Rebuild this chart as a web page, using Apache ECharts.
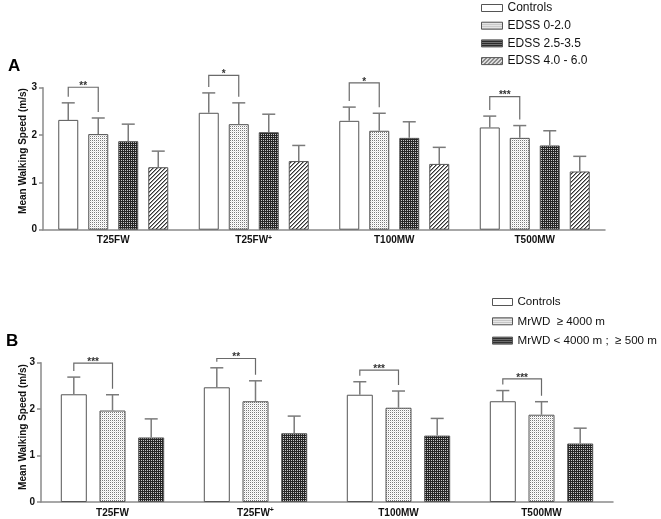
<!DOCTYPE html>
<html><head><meta charset="utf-8">
<script src="https://cdn.jsdelivr.net/npm/echarts@6/dist/echarts.min.js"></script>
<style>html,body{margin:0;padding:0;background:#fff}#c{width:661px;height:519px}</style>
</head><body><div id="c"></div>
<script>
// ---------- data ----------
const categories = ['T25FW', 'T25FW+', 'T100MW', 'T500MW'];
const yTicks = [0, 1, 2, 3];

// Panel A (EDSS groups)
const aNames = ['Controls', 'EDSS 0-2.0', 'EDSS 2.5-3.5', 'EDSS 4.0 - 6.0'];
const aControls   = [2.32, 2.47, 2.30, 2.16];
const aControlsSD = [0.36, 0.42, 0.29, 0.24];
const aEdss0      = [2.02, 2.23, 2.09, 1.94];
const aEdss0SD    = [0.34, 0.45, 0.37, 0.26];
const aEdss25     = [1.87, 2.06, 1.94, 1.78];
const aEdss25SD   = [0.36, 0.38, 0.34, 0.31];
const aEdss4      = [1.32, 1.45, 1.39, 1.23];
const aEdss4SD    = [0.34, 0.33, 0.35, 0.32];
const aSigLevel   = [3.01, 3.26, 3.10, 2.81];
const aSigLabel   = ['**', '*', '*', '***'];

// Panel B (MrWD groups)
const bNames = ['Controls', 'MrWD  \u2265 4000 m', 'MrWD < 4000 m ;  \u2265 500 m'];
const bControls   = [2.32, 2.47, 2.31, 2.17];
const bControlsSD = [0.37, 0.42, 0.28, 0.23];
const bMr4000     = [1.97, 2.17, 2.03, 1.88];
const bMr4000SD   = [0.34, 0.44, 0.36, 0.28];
const bMr500      = [1.39, 1.48, 1.43, 1.26];
const bMr500SD    = [0.40, 0.37, 0.37, 0.33];
const bSigLevel   = [2.99, 3.09, 2.84, 2.65];
const bSigLabel   = ['***', '**', '***', '***'];

// ---------- styles ----------
const FONT = 'Liberation Sans, Arial, sans-serif';
const AXIS_COLOR = '#8a8a8a';
const ERR_COLOR = '#7a7a7a';
const BORDER = '#555';

function makePattern(size, draw) {
  const c = document.createElement('canvas');
  c.width = c.height = size;
  const g = c.getContext('2d');
  g.fillStyle = '#fff'; g.fillRect(0, 0, size, size);
  draw(g, size);
  return { image: c, repeat: 'repeat' };
}
const patWhite = '#ffffff';
const patLight = makePattern(2, g => { g.fillStyle = '#7a7a7a'; g.fillRect(0, 0, 1, 1); g.fillStyle = '#e6e6e6'; g.fillRect(1, 1, 1, 1); });
const patDark = makePattern(2, g => { g.fillStyle = '#262626'; g.fillRect(0, 0, 2, 2); g.fillStyle = '#c8c8c8'; g.fillRect(1, 0, 1, 1); });
const patHatch = makePattern(4, (g, s) => {
  for (let x = 0; x < s; x++) for (let y = 0; y < s; y++) {
    const k = (x + y) % 4;
    if (k === 0) { g.fillStyle = '#333'; g.fillRect(x, y, 1, 1); }
    else if (k === 1) { g.fillStyle = '#9a9a9a'; g.fillRect(x, y, 1, 1); }
  }
});

const BAR_A = 20, GAP_A = 10, BAR_B = 26, GAP_B = 12.7;

function errRender(nSeries, barW, gap) {
  return function (params, api) {
    const cat = api.value(0), si = api.value(1), mean = api.value(2), sd = api.value(3);
    const base = api.coord([cat, mean]);
    const top = api.coord([cat, mean + sd]);
    const x = base[0] + (si - (nSeries - 1) / 2) * (barW + gap);
    const cap = 6.5;
    const st = { stroke: ERR_COLOR, lineWidth: 1.5 };
    return { type: 'group', children: [
      { type: 'line', shape: { x1: x, y1: base[1], x2: x, y2: top[1] }, style: st },
      { type: 'line', shape: { x1: x - cap, y1: top[1], x2: x + cap, y2: top[1] }, style: st }
    ]};
  };
}
function sigRender(nSeries, barW, gap, labels) {
  return function (params, api) {
    const cat = api.value(0), lvl = api.value(1), leftTop = api.value(2), rightTop = api.value(3);
    const c = api.coord([cat, lvl]);
    const l = api.coord([cat, leftTop]);
    const r = api.coord([cat, rightTop]);
    const step = barW + gap;
    const xl = c[0] + (0 - (nSeries - 1) / 2) * step;
    const xr = c[0] + (1 - (nSeries - 1) / 2) * step;
    const st = { stroke: '#6a6a6a', lineWidth: 1.2, fill: null };
    return { type: 'group', children: [
      { type: 'polyline', shape: { points: [[xl, l[1] - 6], [xl, c[1]], [xr, c[1]], [xr, r[1] - 6]] }, style: st },
      { type: 'text', style: { text: labels[params.dataIndex], x: (xl + xr) / 2, y: c[1] - 1,
          align: 'center', verticalAlign: 'middle', font: 'bold 10px ' + FONT, fill: '#333' } }
    ]};
  };
}

function errData(means, sds) {
  const out = [];
  means.forEach((m, s) => m.forEach((v, i) => out.push([i, s, v, sds[s][i]])));
  return out;
}
function sigData(lv, m0, sd0, m1, sd1) {
  return lv.map((v, i) => [i, v, m0[i] + sd0[i], m1[i] + sd1[i]]);
}

const aMeans = [aControls, aEdss0, aEdss25, aEdss4];
const aSDs = [aControlsSD, aEdss0SD, aEdss25SD, aEdss4SD];
const aFills = [patWhite, patLight, patDark, patHatch];
const bMeans = [bControls, bMr4000, bMr500];
const bSDs = [bControlsSD, bMr4000SD, bMr500SD];
const bFills = [patWhite, patLight, patDark];

function xAxis(gi) {
  return {
    type: 'category', gridIndex: gi, data: categories,
    axisLine: { lineStyle: { color: AXIS_COLOR, width: 1.5 } },
    axisTick: { show: false },
    axisLabel: {
      margin: 5, color: '#111', fontFamily: FONT, fontWeight: 'bold', fontSize: 10, lineHeight: 12,
      formatter: v => v === 'T25FW+' ? 'T25FW{sup|+}' : v,
      rich: { sup: { fontSize: 7, fontWeight: 'bold', fontFamily: FONT, color: '#111', verticalAlign: 'top', lineHeight: 8, padding: [0, 0, 5, 0] } }
    }
  };
}
function yAxis(gi) {
  return {
    type: 'value', gridIndex: gi, min: yTicks[0], max: yTicks[yTicks.length - 1], interval: 1,
    axisLine: { show: true, lineStyle: { color: AXIS_COLOR, width: 1.5 } },
    axisTick: { show: true, length: 4, lineStyle: { color: AXIS_COLOR, width: 1.5 } },
    splitLine: { show: false },
    axisLabel: { margin: 6, color: '#111', fontFamily: FONT, fontWeight: 'bold', fontSize: 10 }
  };
}

const series = [];
aNames.forEach((n, s) => series.push({
  type: 'bar', name: n, xAxisIndex: 0, yAxisIndex: 0, data: aMeans[s],
  barWidth: BAR_A, barGap: (GAP_A / BAR_A * 100) + '%',
  itemStyle: { color: aFills[s], borderColor: BORDER, borderWidth: 1 }
}));
bNames.forEach((n, s) => series.push({
  type: 'bar', name: n, xAxisIndex: 1, yAxisIndex: 1, data: bMeans[s],
  barWidth: BAR_B, barGap: (GAP_B / BAR_B * 100) + '%',
  itemStyle: { color: bFills[s], borderColor: BORDER, borderWidth: 1 }
}));
series.push({ type: 'custom', xAxisIndex: 0, yAxisIndex: 0, clip: false, z: 5,
  renderItem: errRender(4, BAR_A, GAP_A), data: errData(aMeans, aSDs) });
series.push({ type: 'custom', xAxisIndex: 1, yAxisIndex: 1, clip: false, z: 5,
  renderItem: errRender(3, BAR_B, GAP_B), data: errData(bMeans, bSDs) });
series.push({ type: 'custom', xAxisIndex: 0, yAxisIndex: 0, clip: false, z: 5,
  renderItem: sigRender(4, BAR_A, GAP_A, aSigLabel), data: sigData(aSigLevel, aControls, aControlsSD, aEdss0, aEdss0SD) });
series.push({ type: 'custom', xAxisIndex: 1, yAxisIndex: 1, clip: false, z: 5,
  renderItem: sigRender(3, BAR_B, GAP_B, bSigLabel), data: sigData(bSigLevel, bControls, bControlsSD, bMr4000, bMr4000SD) });

const legendItemStyle = { borderColor: '#555', borderWidth: 1 };

const option = {
  animation: false,
  backgroundColor: '#fff',
  grid: [
    { left: 43, top: 87.7, width: 562, height: 142, containLabel: false },
    { left: 41, top: 362.7, width: 572, height: 140.6, containLabel: false }
  ],
  xAxis: [xAxis(0), xAxis(1)],
  yAxis: [yAxis(0), yAxis(1)],
  legend: [
    { data: aNames, orient: 'vertical', left: 481, top: 2, padding: 0, itemWidth: 21, itemHeight: 7,
      itemGap: 5.7, icon: 'rect', selectedMode: false, itemStyle: legendItemStyle,
      textStyle: { color: '#111', fontFamily: FONT, fontSize: 12, lineHeight: 12 } },
    { data: bNames, orient: 'vertical', left: 492, top: 296, padding: 0, itemWidth: 20, itemHeight: 7,
      itemGap: 7.3, icon: 'rect', selectedMode: false, itemStyle: legendItemStyle,
      textStyle: { color: '#111', fontFamily: FONT, fontSize: 11.6, lineHeight: 12 } }
  ],
  graphic: [
    { type: 'text', left: 8, top: 58, style: { text: 'A', font: 'bold 17px ' + FONT, fill: '#000' } },
    { type: 'text', left: 6, top: 333, style: { text: 'B', font: 'bold 17px ' + FONT, fill: '#000' } },
    { type: 'text', x: 23.5, y: 151, rotation: Math.PI / 2,
      style: { text: 'Mean Walking Speed (m/s)', font: 'bold 10px ' + FONT, fill: '#111', align: 'center', verticalAlign: 'middle' } },
    { type: 'text', x: 23.5, y: 427, rotation: Math.PI / 2,
      style: { text: 'Mean Walking Speed (m/s)', font: 'bold 10px ' + FONT, fill: '#111', align: 'center', verticalAlign: 'middle' } }
  ],
  series: series
};
const chart = echarts.init(document.getElementById('c'));
chart.setOption(option);
</script>
</body></html>
